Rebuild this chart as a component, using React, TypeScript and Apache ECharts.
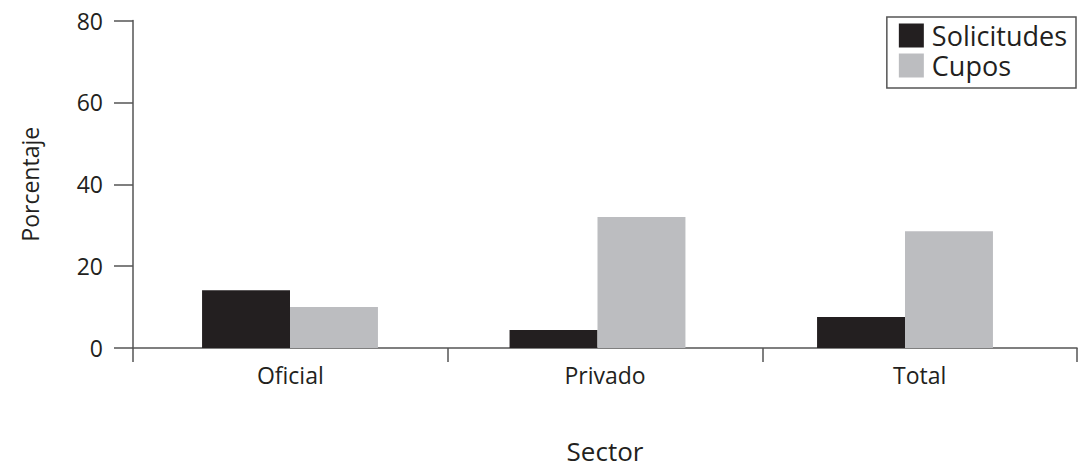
import React, { useEffect, useRef } from "react";
import * as echarts from "echarts";

const categories = ["Oficial", "Privado", "Total"];
const solicitudes = [14.1, 4.4, 7.6];
const cupos = [10.0, 32.0, 28.5];
const yTicks = { min: 0, max: 80, interval: 20 };

const FONT = "'Open Sans', Lato, sans-serif";
const TXT = "#231f20";
const AX = "#555555";

export default function App() {
  const ref = useRef<HTMLDivElement>(null);
  useEffect(() => {
    if (!ref.current) return;
    const chart = echarts.init(ref.current, null, { renderer: "svg" });
    chart.setOption({
      animation: false,
      textStyle: { fontFamily: FONT, color: TXT },
      grid: [
        { left: 133, right: 11, top: 20.5, bottom: 121, containLabel: false, outerBoundsMode: "none" },
        { left: 136.25, right: 29.25, top: 20.5, bottom: 121, containLabel: false, outerBoundsMode: "none" },
      ],
      legend: {
        orient: "vertical",
        right: 12,
        top: 17,
        itemWidth: 25,
        itemHeight: 24,
        itemGap: 3,
        padding: [5, 9, 9, 12],
        borderColor: AX,
        borderWidth: 1.5,
        icon: "rect",
        textStyle: { fontFamily: FONT, fontSize: 27, lineHeight: 27, color: TXT, padding: [0, 0, 0, 3] },
        data: ["Solicitudes", "Cupos"],
      },
      xAxis: [
        {
          type: "category",
          gridIndex: 0,
          data: categories,
          name: "Sector",
          nameLocation: "middle",
          nameGap: 90,
          nameTextStyle: { fontFamily: FONT, fontSize: 26, color: TXT },
          axisLine: { lineStyle: { color: AX, width: 1.5 } },
          axisTick: { show: true, inside: false, length: 14, alignWithLabel: false, lineStyle: { color: AX, width: 1.5 } },
          axisLabel: { fontFamily: FONT, fontSize: 23, color: TXT, margin: 15 },
        },
        {
          type: "category",
          gridIndex: 1,
          data: categories,
          show: false,
        },
      ],
      yAxis: [
        {
          type: "value",
          gridIndex: 0,
          min: yTicks.min,
          max: yTicks.max,
          interval: yTicks.interval,
          name: "Porcentaje",
          nameLocation: "middle",
          nameGap: 92,
          nameRotate: 90,
          nameTextStyle: { fontFamily: FONT, fontSize: 23, color: TXT },
          splitLine: { show: false },
          axisLine: { show: true, lineStyle: { color: AX, width: 1.5 } },
          axisTick: { show: true, length: 19, lineStyle: { color: AX, width: 1.5 } },
          axisLabel: { fontFamily: FONT, fontSize: 23, color: TXT, margin: 30 },
        },
        {
          type: "value",
          gridIndex: 1,
          min: yTicks.min,
          max: yTicks.max,
          interval: yTicks.interval,
          show: false,
          splitLine: { show: false },
        },
      ],
      series: [
        {
          name: "Solicitudes",
          type: "bar",
          xAxisIndex: 1,
          yAxisIndex: 1,
          data: solicitudes,
          itemStyle: { color: "#231f20" },
          barGap: "0%",
          barCategoryGap: "42.8%",
        },
        {
          name: "Cupos",
          type: "bar",
          xAxisIndex: 1,
          yAxisIndex: 1,
          data: cupos,
          itemStyle: { color: "#bcbdc0" },
          barGap: "0%",
          barCategoryGap: "42.8%",
        },
      ],
    });
    return () => chart.dispose();
  }, []);
  return <div ref={ref} style={{ width: 1088, height: 469, position: "absolute", left: 0, top: 0, background: "#fff" }} />;
}
